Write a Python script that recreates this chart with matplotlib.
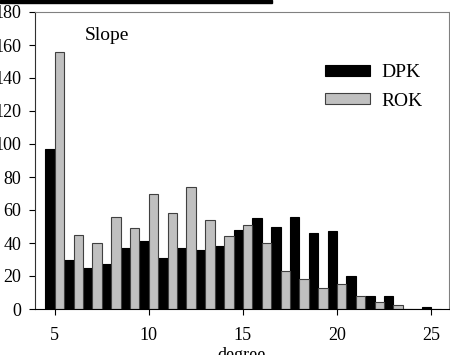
import matplotlib
matplotlib.use('Agg')
import matplotlib.pyplot as plt
import numpy as np

degrees = [5, 6, 7, 8, 9, 10, 11, 12, 13, 14, 15, 16, 17, 18, 19, 20, 21, 22, 23, 24, 25]
dpk = [97, 30, 25, 27, 37, 41, 31, 37, 36, 38, 48, 55, 50, 56, 46, 47, 20, 8, 8, 0, 1.5]
rok = [156, 45, 40, 56, 49, 70, 58, 74, 54, 44, 51, 40, 23, 18, 13, 15, 8, 4, 2.5, 0, 0]
y_ticks = [0, 20, 40, 60, 80, 100, 120, 140, 160, 180]
x_ticks = [5, 10, 15, 20, 25]

plt.rcParams['font.family'] = ['Liberation Serif', 'DejaVu Serif']

fig = plt.figure(figsize=(4.5, 3.55), dpi=100)
ax = fig.add_axes([35 / 450, 1 - 309 / 355, 414 / 450, 297 / 355])

x = np.array(degrees)
w = 0.5
ax.bar(x - w / 2, dpk, width=w, color='black', edgecolor='black', linewidth=0.8, label='DPK')
ax.bar(x + w / 2, rok, width=w, color='#c0c0c0', edgecolor='#404040', linewidth=0.8, label='ROK')

ax.set_xlim(3.95, 25.95)
ax.set_ylim(0, 180)
ax.set_yticks(y_ticks)
ax.set_xticks(x_ticks)
ax.tick_params(axis='both', direction='out', labelsize=13, color='black')
ax.tick_params(axis='y', length=4, pad=6)
ax.tick_params(axis='x', length=4, pad=9)

ax.spines['top'].set_color('#808080')
ax.spines['right'].set_color('#808080')
ax.spines['left'].set_color('#303030')
ax.spines['bottom'].set_color('black')

ax.set_xlabel('degree', fontsize=13, labelpad=2)
ax.text(0.12, 0.95, 'Slope', transform=ax.transAxes, fontsize=14, va='top')

ax.legend(loc='upper left', bbox_to_anchor=(0.70, 0.825), frameon=False, fontsize=14,
          handlelength=2.3, handleheight=0.5, handletextpad=0.6, labelspacing=0.6,
          borderpad=0, borderaxespad=0)

# cropped rule from the panel above
fig.add_artist(plt.Rectangle((0, 1 - 3 / 355), 272 / 450, 3 / 355, color='black',
                             transform=fig.transFigure))

fig.savefig('out.png', dpi=100)
